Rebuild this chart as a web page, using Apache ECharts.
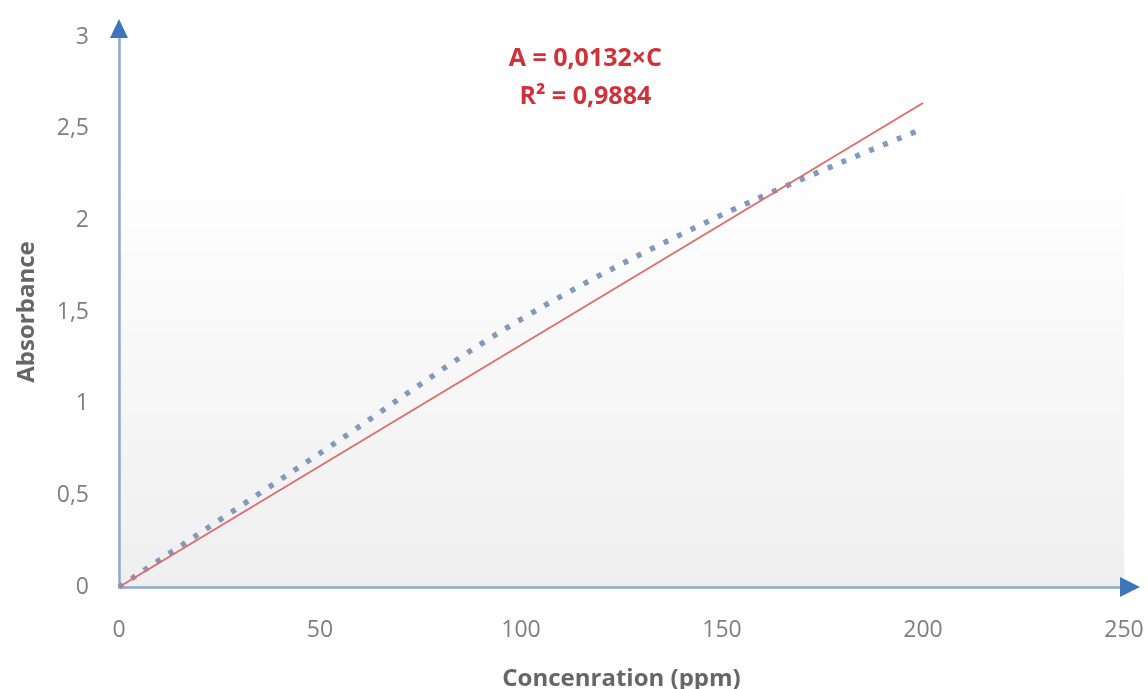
<!DOCTYPE html>
<html>
<head>
<meta charset="utf-8">
<script src="https://cdn.jsdelivr.net/npm/echarts@6/dist/echarts.min.js"></script>
<style>
html,body{margin:0;padding:0;background:#fff;}
#chart{width:1148px;height:689px;}
</style>
</head>
<body>
<div id="chart"></div>
<script>
// Data
var concentration = [0, 50, 100, 150, 200];
var absorbance = [0, 0.73, 1.46, 2.03, 2.50];
var fitX = [0, 200];
var fitY = [0, 2.64];
var equationLines = ['A = 0,0132×C', 'R² = 0,9884'];
var xName = 'Concenration (ppm)';
var yName = 'Absorbance';

function pairs(xs, ys) { return xs.map(function (x, i) { return [x, ys[i]]; }); }

var chart = echarts.init(document.getElementById('chart'));
var labelStyle = { color: '#7f7f7f', fontSize: 23, fontFamily: 'Open Sans' };
var nameStyle = { color: '#666666', fontSize: 24, fontWeight: 'bold', fontFamily: 'Open Sans' };
chart.setOption({
  animation: false,
  grid: {
    left: 119, right: 24, top: 37, bottom: 102,
    containLabel: false, outerBoundsMode: 'none',
    show: true, borderWidth: 0,
    backgroundColor: {
      type: 'linear', x: 0, y: 0, x2: 0, y2: 1,
      colorStops: [
        { offset: 0, color: '#ffffff' },
        { offset: 0.22, color: '#ffffff' },
        { offset: 1, color: '#efefef' }
      ]
    }
  },
  xAxis: {
    type: 'value', min: 0, max: 250, interval: 50,
    name: xName, nameLocation: 'middle', nameGap: 80,
    nameTextStyle: nameStyle,
    axisLine: { show: true, lineStyle: { color: '#8fa9c9', width: 2.5 } },
    axisTick: { show: false },
    splitLine: { show: false },
    axisLabel: Object.assign({ margin: 32 }, labelStyle)
  },
  yAxis: {
    type: 'value', min: 0, max: 3, interval: 0.5,
    name: yName, nameLocation: 'middle', nameGap: 80,
    nameTextStyle: nameStyle,
    axisLine: { show: true, lineStyle: { color: '#8fa9c9', width: 2.5 } },
    axisTick: { show: false },
    splitLine: { show: false },
    axisLabel: Object.assign({
      margin: 30,
      formatter: function (v) { return String(v).replace('.', ','); }
    }, labelStyle)
  },
  series: [
    {
      type: 'line', name: 'data', data: pairs(concentration, absorbance),
      smooth: 0.35, showSymbol: false, z: 3,
      lineStyle: { color: '#8099bc', width: 5.5, type: [5, 10], cap: 'butt' }
    },
    {
      type: 'line', name: 'fit', data: pairs(fitX, fitY),
      showSymbol: false, z: 4,
      lineStyle: { color: '#e06a6a', width: 1.8 }
    }
  ]
});

// Axis arrows placed from the axes' own scales
var xe = chart.convertToPixel({ gridIndex: 0 }, [250, 0]);
var ye = chart.convertToPixel({ gridIndex: 0 }, [0, 3]);
var eq = chart.convertToPixel({ gridIndex: 0 }, [116, 3]);
chart.setOption({
  graphic: [
    { type: 'polygon', shape: { points: [[xe[0] - 4, xe[1] - 10], [xe[0] + 16, xe[1]], [xe[0] - 4, xe[1] + 10]] },
      style: { fill: '#3f74b8' }, z: 10 },
    { type: 'polygon', shape: { points: [[ye[0] - 9, ye[1] + 1], [ye[0], ye[1] - 18], [ye[0] + 9, ye[1] + 1]] },
      style: { fill: '#3f74b8' }, z: 10 },
    { type: 'text', x: eq[0], y: eq[1] + 3, z: 10,
      style: { text: equationLines.join('\n'), fill: '#d0323c', font: 'bold 25px "Open Sans"',
        align: 'center', lineHeight: 38 } }
  ]
});
</script>
</body>
</html>
